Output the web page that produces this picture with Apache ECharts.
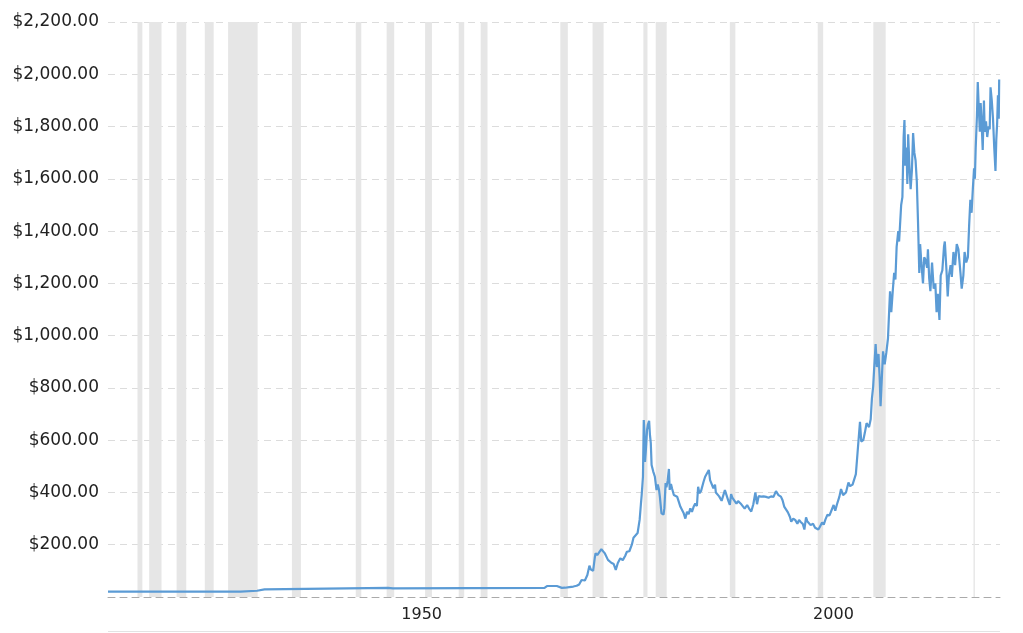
<!DOCTYPE html>
<html>
<head>
<meta charset="utf-8">
<script src="https://cdn.jsdelivr.net/npm/echarts@6/dist/echarts.min.js"></script>
<style>
  html, body { margin: 0; padding: 0; background: #fff; }
  #chart { width: 1023px; height: 633px; }
</style>
</head>
<body>
<div id="chart"></div>
<script>
// gold price, USD per ounce (decimal year, price)
const years = [
  1915, 1931.1, 1931.2, 1933.1, 1933.2, 1934.0, 1934.1, 1949.0, 1949.05, 1949.6, 1949.65, 1968.0,
  1968.05, 1968.3, 1969.5, 1970.1, 1970.5, 1971.0, 1971.5, 1971.9, 1972.2, 1972.5, 1972.9, 1973.2,
  1973.45, 1973.6, 1973.9, 1974.1, 1974.2, 1974.4, 1974.6, 1974.9, 1975.1, 1975.3, 1975.5, 1975.7,
  1975.9, 1976.1, 1976.4, 1976.65, 1976.9, 1977.2, 1977.5, 1977.8, 1978.0, 1978.3, 1978.6, 1978.8,
  1979.0, 1979.3, 1979.55, 1979.7, 1979.8, 1979.95, 1980.05, 1980.12, 1980.2, 1980.3, 1980.45, 1980.55,
  1980.7, 1980.8, 1980.9, 1981.0, 1981.2, 1981.4, 1981.6, 1981.75, 1981.9, 1982.0, 1982.2, 1982.45,
  1982.55, 1982.7, 1982.8, 1982.95, 1983.1, 1983.2, 1983.35, 1983.5, 1983.7, 1983.9, 1984.1, 1984.3,
  1984.5, 1984.7, 1984.9, 1985.1, 1985.3, 1985.5, 1985.7, 1985.9, 1986.1, 1986.3, 1986.5, 1986.65,
  1986.8, 1987.0, 1987.3, 1987.5, 1987.7, 1987.95, 1988.1, 1988.3, 1988.5, 1988.7, 1988.8, 1989.0,
  1989.2, 1989.5, 1989.7, 1989.9, 1990.1, 1990.3, 1990.5, 1990.65, 1990.8, 1991.0, 1991.3, 1991.5,
  1991.8, 1992.0, 1992.3, 1992.6, 1992.9, 1993.1, 1993.35, 1993.6, 1993.8, 1994.0, 1994.3, 1994.6,
  1994.9, 1995.2, 1995.5, 1995.8, 1996.1, 1996.4, 1996.7, 1996.9, 1997.1, 1997.3, 1997.55, 1997.8,
  1997.95, 1998.2, 1998.45, 1998.7, 1998.9, 1999.1, 1999.35, 1999.55, 1999.75, 1999.9, 2000.1, 2000.3,
  2000.6, 2000.85, 2001.0, 2001.25, 2001.45, 2001.7, 2001.9, 2002.1, 2002.35, 2002.6, 2002.8, 2003.1,
  2003.3, 2003.5, 2003.8, 2004.0, 2004.25, 2004.4, 2004.6, 2004.9, 2005.1, 2005.4, 2005.6, 2005.8,
  2006.0, 2006.3, 2006.45, 2006.7, 2006.9, 2007.1, 2007.4, 2007.6, 2007.75, 2007.9, 2008.05, 2008.2,
  2008.35, 2008.55, 2008.7, 2008.8, 2008.9, 2009.1, 2009.3, 2009.5, 2009.7, 2009.85, 2009.95, 2010.1,
  2010.3, 2010.45, 2010.6, 2010.75, 2010.95, 2011.05, 2011.3, 2011.45, 2011.6, 2011.7, 2011.8, 2011.95,
  2012.05, 2012.15, 2012.3, 2012.45, 2012.6, 2012.75, 2012.9, 2013.05, 2013.2, 2013.35, 2013.5, 2013.6,
  2013.75, 2013.95, 2014.1, 2014.25, 2014.45, 2014.55, 2014.7, 2014.85, 2015.05, 2015.25, 2015.45, 2015.6,
  2015.75, 2015.95, 2016.1, 2016.3, 2016.5, 2016.6, 2016.8, 2016.95, 2017.1, 2017.3, 2017.45, 2017.65,
  2017.85, 2018.05, 2018.25, 2018.5, 2018.65, 2018.85, 2019.0, 2019.2, 2019.4, 2019.55, 2019.7, 2019.85,
  2020.0, 2020.15, 2020.25, 2020.35, 2020.5, 2020.6, 2020.7, 2020.85, 2020.95, 2021.05, 2021.2, 2021.35,
  2021.45, 2021.6, 2021.75, 2021.9, 2022.05, 2022.15, 2022.3, 2022.45, 2022.6, 2022.75, 2022.85, 2022.95,
  2023.05, 2023.15, 2023.2
];
const prices = [
  20.7, 20.7, 24, 24, 29, 29, 35, 35, 33, 33, 35, 35,
  40, 42, 42, 35, 35.5, 38, 40, 43, 48, 65, 63, 84,
  120, 106, 100, 150, 168, 160, 155, 183, 178, 168, 166, 142,
  140, 131, 126, 104, 130, 148, 141, 158, 173, 175, 200, 227,
  227, 245, 296, 355, 392, 460, 677, 635, 517, 560, 640, 660,
  674, 620, 590, 505, 480, 460, 409, 430, 410, 385, 320, 315,
  340, 436, 420, 445, 490, 410, 432, 413, 390, 388, 384, 378,
  345, 340, 320, 300, 326, 317, 339, 326, 345, 358, 348, 422,
  397, 405, 440, 460, 455, 486, 447, 451, 416, 430, 400, 404,
  385, 368, 364, 409, 415, 370, 352, 394, 380, 383, 357, 367,
  358, 354, 338, 352, 335, 327, 355, 400, 355, 386, 384, 385,
  383, 380, 385, 383, 405, 390, 384, 370, 346, 344, 324, 306,
  288, 300, 294, 280, 295, 287, 280, 258, 305, 290, 290, 275,
  280, 265, 268, 258, 270, 285, 277, 296, 315, 312, 318, 352,
  330, 354, 384, 413, 390, 390, 400, 438, 424, 430, 424, 470,
  550, 670, 595, 600, 630, 665, 650, 680, 760, 805, 890, 968,
  880, 930, 830, 730, 800, 940, 890, 935, 990, 1100, 1170, 1090,
  1180, 1240, 1215, 1340, 1400, 1360, 1500, 1530, 1760, 1825, 1650, 1720,
  1580, 1770, 1650, 1560, 1630, 1775, 1700, 1670, 1590, 1430, 1240, 1350,
  1280, 1200, 1300, 1290, 1260, 1330, 1220, 1170, 1280, 1180, 1200, 1090,
  1160, 1060, 1230, 1250, 1340, 1360, 1250, 1150, 1230, 1270, 1225, 1320,
  1270, 1350, 1330, 1240, 1180, 1230, 1320, 1280, 1300, 1420, 1520, 1470,
  1560, 1640, 1600, 1720, 1840, 1970, 1890, 1780, 1890, 1830, 1710, 1900,
  1780, 1820, 1760, 1800, 1790, 1950, 1900, 1830, 1720, 1630, 1750, 1810,
  1920, 1830, 1980
];

// US recessions (decimal years)
const recessionStarts = [1918.58, 1920.0, 1923.33, 1926.75, 1929.58, 1937.33, 1945.08, 1948.83, 1953.5, 1957.58,
  1960.25, 1969.92, 1973.83, 1980.0, 1981.5, 1990.5, 2001.17, 2007.92, 2020.08];
const recessionEnds = [1919.17, 1921.5, 1924.5, 1927.83, 1933.17, 1938.42, 1945.75, 1949.75, 1954.33, 1958.25,
  1961.08, 1970.83, 1975.17, 1980.5, 1982.83, 1991.17, 2001.83, 2009.42, 2020.25];

const yearTicks = [1950, 2000];

const chart = echarts.init(document.getElementById('chart'));

chart.setOption({
  animation: false,
  textStyle: { fontFamily: 'DejaVu Sans' },
  grid: { left: 108, right: 23, top: 22, bottom: 36 },
  graphic: [{
    type: 'line',
    shape: { x1: 108, y1: 631.5, x2: 1000, y2: 631.5 },
    style: { stroke: '#e3e3e3', lineWidth: 1 }
  }],
  xAxis: {
    type: 'value',
    min: 1915,
    max: 2023.3,
    splitLine: { show: false },
    axisLine: { show: true, lineStyle: { color: '#aaa', type: [7, 5] } },
    axisTick: { show: false },
    axisLabel: {
      customValues: yearTicks,
      formatter: (v) => String(v),
      color: '#222',
      fontSize: 16,
      align: 'left',
      padding: [0, 0, 0, 5],
      margin: 10
    }
  },
  yAxis: {
    type: 'value',
    min: 0,
    max: 2200,
    interval: 200,
    axisLine: { show: false },
    axisTick: { show: false },
    splitLine: { lineStyle: { color: '#dcdcdc', type: [7, 5] } },
    axisLabel: {
      color: '#222',
      fontSize: 17,
      margin: 9,
      formatter: (v) => v === 0 ? '' : '$' + v.toLocaleString('en-US', { minimumFractionDigits: 2, maximumFractionDigits: 2 })
    }
  },
  series: [{
    type: 'line',
    data: years.map((y, i) => [y, prices[i]]),
    showSymbol: false,
    lineStyle: { color: '#5b9bd5', width: 2.2 },
    itemStyle: { color: '#5b9bd5' },
    z: 3,
    markArea: {
      silent: true,
      itemStyle: { color: '#e6e6e6' },
      data: recessionStarts.map((s, i) => [{ xAxis: s }, { xAxis: recessionEnds[i] }])
    }
  }]
});
</script>
</body>
</html>
